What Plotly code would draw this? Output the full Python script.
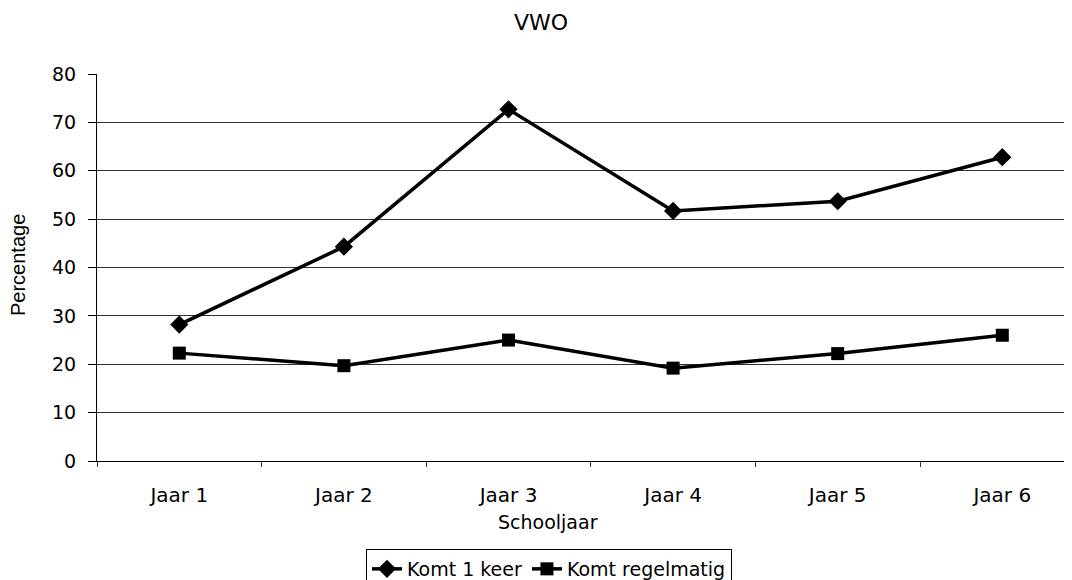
import plotly.graph_objects as go

categories = ["Jaar 1", "Jaar 2", "Jaar 3", "Jaar 4", "Jaar 5", "Jaar 6"]
komt_1_keer = [28.2, 44.3, 72.7, 51.7, 53.7, 62.8]
komt_regelmatig = [22.3, 19.7, 25.0, 19.2, 22.2, 26.0]
y_ticks = [0, 10, 20, 30, 40, 50, 60, 70, 80]

FONT = "DejaVu Sans, Arial, sans-serif"
OFF = 8  # page body margin offset

fig = go.Figure()
fig.add_trace(go.Scatter(
    x=categories, y=komt_1_keer, name="Komt 1 keer",
    mode="lines+markers",
    line=dict(color="black", width=3.5),
    marker=dict(symbol="diamond", size=14, color="black"),
))
fig.add_trace(go.Scatter(
    x=categories, y=komt_regelmatig, name="Komt regelmatig",
    mode="lines+markers",
    line=dict(color="black", width=3.5),
    marker=dict(symbol="square", size=13, color="black"),
))

L, T, PW, PH = 97 - OFF, 74 - OFF, 975, 387
fig.update_layout(
    width=1072, height=580,
    margin=dict(l=L, r=1072 - L - PW, t=T, b=580 - T - PH, autoexpand=False),
    paper_bgcolor="white", plot_bgcolor="white",
    font=dict(family=FONT, size=19, color="black"),
    title=dict(text="VWO", xref="container", x=(541 - OFF)/1072, xanchor="center",
               yref="container", y=1-(22 - OFF)/580, yanchor="middle",
               font=dict(size=22, family=FONT, color="black")),
    showlegend=True,
    legend=dict(orientation="h", x=(549-97)/975, xanchor="center",
                y=(461-549)/387, yanchor="top",
                bordercolor="black", borderwidth=1, bgcolor="white",
                font=dict(size=19, family=FONT), itemwidth=30,
                tracegroupgap=0),
    xaxis=dict(
        type="category",
        range=[-0.5, -0.5 + 975/164.6],
        showline=True, linecolor="black", linewidth=1,
        ticks="outside", tickson="boundaries", ticklen=5, tickcolor="#333",
        showgrid=False, zeroline=False,
        ticklabelstandoff=16,
        tickfont=dict(size=20, family=FONT),
    ),
    yaxis=dict(
        range=[0, 80], tickvals=y_ticks,
        showline=True, linecolor="black", linewidth=1,
        ticks="outside", ticklen=8, tickcolor="black",
        showgrid=True, gridcolor="#333", gridwidth=1,
        zeroline=False,
        ticklabelstandoff=8,
        tickfont=dict(size=19, family=FONT),
    ),
    annotations=[
        dict(text="Schooljaar", xref="paper", yref="paper",
             x=(548-97)/975, y=(461-522)/387, xanchor="center", yanchor="middle",
             showarrow=False, font=dict(size=19, family=FONT)),
        dict(text="Percentage", xref="paper", yref="paper",
             x=(18-97)/975, y=(461-265)/387, xanchor="center", yanchor="middle",
             textangle=-90, showarrow=False,
             font=dict(size=20, family="Liberation Sans Narrow, Arial Narrow, sans-serif")),
    ],
)

fig.write_html("out.html")
